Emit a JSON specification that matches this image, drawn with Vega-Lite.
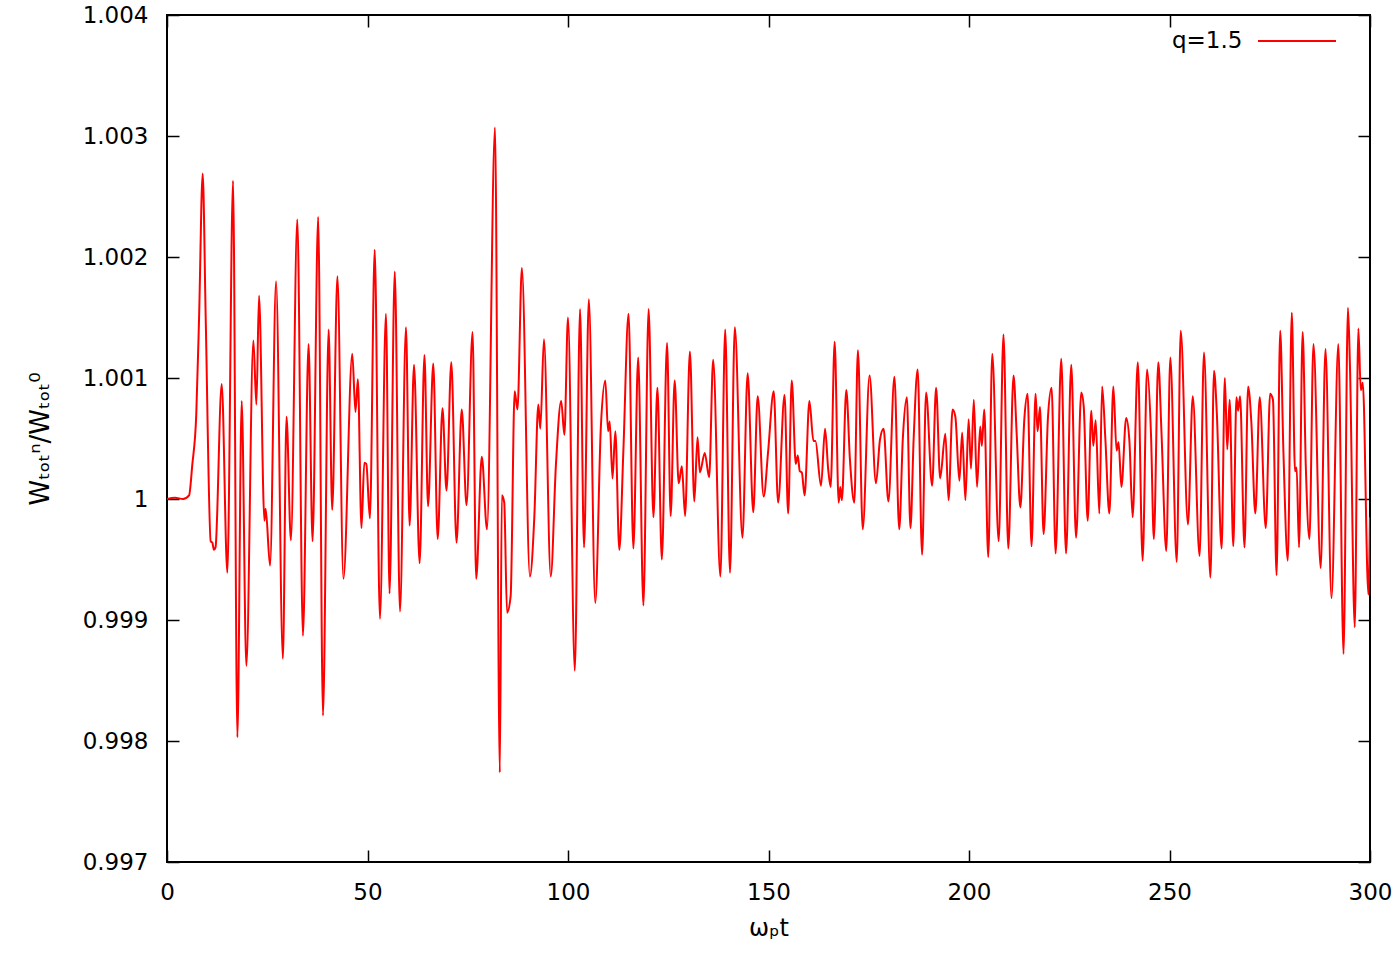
{
  "$schema": "https://vega.github.io/schema/vega-lite/v6.json",
  "width": 1203,
  "height": 847,
  "autosize": "none",
  "padding": {"left": 167, "top": 15, "right": 30, "bottom": 93},
  "background": "white",
  "config": {
    "view": {"stroke": "#000", "strokeWidth": 2},
    "font": "DejaVu Sans",
    "axis": {
      "grid": false,
      "domain": false,
      "tickColor": "#000",
      "tickWidth": 1.5,
      "tickSize": -12,
      "labelFont": "DejaVu Sans",
      "labelFontSize": 23,
      "labelColor": "#000",
      "titleFont": "DejaVu Sans",
      "titleFontSize": 23,
      "titleFontWeight": "normal",
      "titleColor": "#000"
    }
  },
  "data": {
    "values": [
      {"t": 0, "w": 1.00000}, {"t": 2, "w": 1.00001}, {"t": 4, "w": 1.00000}, {"t": 5.5, "w": 1.00003},
      {"t": 6.3, "w": 1.00028}, {"t": 7.3, "w": 1.0007}, {"t": 8.0, "w": 1.0015}, {"t": 8.9, "w": 1.00269},
      {"t": 9.65, "w": 1.0015}, {"t": 10.9, "w": 0.99965}, {"t": 11.3, "w": 0.99964}, {"t": 11.7, "w": 0.99958},
      {"t": 12.1, "w": 0.9996}, {"t": 13.64, "w": 1.00095}, {"t": 15.05, "w": 0.99939}, {"t": 16.47, "w": 1.00263},
      {"t": 17.55, "w": 0.99803}, {"t": 18.63, "w": 1.00081}, {"t": 19.79, "w": 0.99862}, {"t": 21.54, "w": 1.00131},
      {"t": 22.29, "w": 1.00078}, {"t": 22.95, "w": 1.00168}, {"t": 24.3, "w": 0.99982}, {"t": 24.6, "w": 0.99992},
      {"t": 25.7, "w": 0.99945}, {"t": 27.2, "w": 1.0018}, {"t": 28.9, "w": 0.99868}, {"t": 29.8, "w": 1.00068},
      {"t": 30.9, "w": 0.99966}, {"t": 32.5, "w": 1.00231}, {"t": 33.9, "w": 0.99887}, {"t": 35.3, "w": 1.00128},
      {"t": 36.3, "w": 0.99965}, {"t": 37.7, "w": 1.00233}, {"t": 38.9, "w": 0.99821}, {"t": 40.3, "w": 1.0014},
      {"t": 41.2, "w": 0.99991}, {"t": 42.5, "w": 1.00184}, {"t": 44.0, "w": 0.99934}, {"t": 46.2, "w": 1.0012},
      {"t": 47.0, "w": 1.00072}, {"t": 47.6, "w": 1.00099}, {"t": 48.5, "w": 0.99976}, {"t": 49.2, "w": 1.0003},
      {"t": 49.7, "w": 1.00029}, {"t": 50.6, "w": 0.99984}, {"t": 51.8, "w": 1.00206}, {"t": 53.1, "w": 0.99901},
      {"t": 54.6, "w": 1.00153}, {"t": 55.5, "w": 0.99922}, {"t": 56.8, "w": 1.00188}, {"t": 58.1, "w": 0.99907},
      {"t": 59.6, "w": 1.00142}, {"t": 60.5, "w": 0.99978}, {"t": 61.6, "w": 1.00111}, {"t": 63.0, "w": 0.99947},
      {"t": 64.2, "w": 1.00119}, {"t": 65.1, "w": 0.99994}, {"t": 66.4, "w": 1.00112}, {"t": 67.5, "w": 0.99967},
      {"t": 68.7, "w": 1.00075}, {"t": 69.7, "w": 1.00007}, {"t": 70.9, "w": 1.00113}, {"t": 72.2, "w": 0.99964},
      {"t": 73.5, "w": 1.00074}, {"t": 74.7, "w": 0.99995}, {"t": 76.2, "w": 1.00138}, {"t": 77.1, "w": 0.99934},
      {"t": 78.5, "w": 1.00035}, {"t": 79.8, "w": 0.99975}, {"t": 81.8, "w": 1.00307}, {"t": 83.0, "w": 0.99774},
      {"t": 83.5, "w": 1.00003}, {"t": 84.1, "w": 0.99997}, {"t": 84.8, "w": 0.99906}, {"t": 85.7, "w": 0.9992},
      {"t": 86.7, "w": 1.00089}, {"t": 87.4, "w": 1.00074}, {"t": 88.5, "w": 1.00191}, {"t": 90.5, "w": 0.99936},
      {"t": 91.6, "w": 0.99985}, {"t": 92.6, "w": 1.00078}, {"t": 93.1, "w": 1.00058}, {"t": 94.0, "w": 1.00132},
      {"t": 95.7, "w": 0.99936}, {"t": 97.0, "w": 1.00029}, {"t": 98.3, "w": 1.00081}, {"t": 99.1, "w": 1.00053},
      {"t": 100.0, "w": 1.0015}, {"t": 101.7, "w": 0.99858}, {"t": 103.0, "w": 1.00157}, {"t": 104.0, "w": 0.9996},
      {"t": 105.2, "w": 1.00165}, {"t": 106.8, "w": 0.99914}, {"t": 108.2, "w": 1.0006}, {"t": 109.3, "w": 1.00098},
      {"t": 110.0, "w": 1.00056}, {"t": 110.4, "w": 1.00064}, {"t": 111.1, "w": 1.00017}, {"t": 111.8, "w": 1.00056},
      {"t": 112.8, "w": 0.99958}, {"t": 113.8, "w": 1.00039}, {"t": 115.1, "w": 1.00153}, {"t": 116.3, "w": 0.99959},
      {"t": 117.5, "w": 1.00117}, {"t": 118.8, "w": 0.99912}, {"t": 120.1, "w": 1.00157}, {"t": 121.3, "w": 0.99985},
      {"t": 122.3, "w": 1.00092}, {"t": 123.4, "w": 0.9995}, {"t": 124.7, "w": 1.00129}, {"t": 125.6, "w": 0.99986},
      {"t": 126.6, "w": 1.00098}, {"t": 127.6, "w": 1.00013}, {"t": 128.4, "w": 1.00027}, {"t": 129.2, "w": 0.99986},
      {"t": 130.4, "w": 1.00122}, {"t": 131.5, "w": 0.99998}, {"t": 132.3, "w": 1.00051}, {"t": 132.9, "w": 1.00022},
      {"t": 134.1, "w": 1.00038}, {"t": 135.2, "w": 1.00018}, {"t": 136.2, "w": 1.00115}, {"t": 138.0, "w": 0.99936},
      {"t": 139.2, "w": 1.0014}, {"t": 140.4, "w": 0.99939}, {"t": 141.6, "w": 1.00142}, {"t": 143.5, "w": 0.99968},
      {"t": 144.8, "w": 1.00104}, {"t": 146.2, "w": 0.99989}, {"t": 147.3, "w": 1.00085}, {"t": 148.8, "w": 1.00002},
      {"t": 149.9, "w": 1.00039}, {"t": 151.3, "w": 1.00089}, {"t": 152.4, "w": 0.99997}, {"t": 154.0, "w": 1.00086},
      {"t": 154.9, "w": 0.99988}, {"t": 155.8, "w": 1.00098}, {"t": 156.8, "w": 1.00029}, {"t": 157.3, "w": 1.00036},
      {"t": 157.8, "w": 1.00023}, {"t": 158.3, "w": 1.00022}, {"t": 159.0, "w": 1.00003}, {"t": 160.2, "w": 1.00081},
      {"t": 161.2, "w": 1.00048}, {"t": 161.7, "w": 1.00048}, {"t": 163.1, "w": 1.00011}, {"t": 164.1, "w": 1.00058},
      {"t": 164.9, "w": 1.00024}, {"t": 165.5, "w": 1.0001}, {"t": 166.5, "w": 1.0013}, {"t": 167.5, "w": 0.99997},
      {"t": 167.9, "w": 1.0001}, {"t": 168.3, "w": 0.99999}, {"t": 169.4, "w": 1.0009}, {"t": 170.3, "w": 1.00033},
      {"t": 171.4, "w": 0.99997}, {"t": 172.3, "w": 1.00123}, {"t": 173.5, "w": 0.99975}, {"t": 175.2, "w": 1.00102},
      {"t": 176.8, "w": 1.00013}, {"t": 177.8, "w": 1.00049}, {"t": 178.7, "w": 1.00058}, {"t": 179.9, "w": 0.99998},
      {"t": 181.4, "w": 1.00101}, {"t": 182.6, "w": 0.99975}, {"t": 183.5, "w": 1.0005}, {"t": 184.5, "w": 1.00084},
      {"t": 185.4, "w": 0.99976}, {"t": 186.2, "w": 1.0005}, {"t": 187.2, "w": 1.00107}, {"t": 188.3, "w": 0.99954},
      {"t": 189.3, "w": 1.00088}, {"t": 190.8, "w": 1.00011}, {"t": 191.8, "w": 1.00092}, {"t": 192.8, "w": 1.00017},
      {"t": 194.1, "w": 1.00054}, {"t": 194.9, "w": 0.99999}, {"t": 195.9, "w": 1.00074}, {"t": 196.6, "w": 1.00068},
      {"t": 197.6, "w": 1.00015}, {"t": 198.3, "w": 1.00055}, {"t": 199.1, "w": 0.99999}, {"t": 199.9, "w": 1.00066},
      {"t": 200.5, "w": 1.00025}, {"t": 201.2, "w": 1.00082}, {"t": 202.0, "w": 1.0001}, {"t": 202.8, "w": 1.0006},
      {"t": 203.2, "w": 1.00044}, {"t": 203.8, "w": 1.00074}, {"t": 204.8, "w": 0.99952}, {"t": 205.8, "w": 1.0012},
      {"t": 207.4, "w": 0.99965}, {"t": 208.6, "w": 1.00136}, {"t": 209.8, "w": 0.99959}, {"t": 211.1, "w": 1.00102},
      {"t": 211.9, "w": 1.00053}, {"t": 212.8, "w": 0.99993}, {"t": 213.8, "w": 1.00066}, {"t": 214.6, "w": 1.00087},
      {"t": 215.6, "w": 0.99961}, {"t": 216.6, "w": 1.00087}, {"t": 217.1, "w": 1.00056}, {"t": 217.7, "w": 1.00076},
      {"t": 218.6, "w": 0.99971}, {"t": 219.7, "w": 1.00068}, {"t": 220.6, "w": 1.00092}, {"t": 221.6, "w": 0.99955},
      {"t": 223.0, "w": 1.00116}, {"t": 224.2, "w": 0.99955}, {"t": 225.5, "w": 1.00111}, {"t": 226.7, "w": 0.99968},
      {"t": 228.0, "w": 1.00088}, {"t": 228.6, "w": 1.00077}, {"t": 229.6, "w": 0.99982}, {"t": 230.5, "w": 1.00073},
      {"t": 231.0, "w": 1.00044}, {"t": 231.6, "w": 1.00065}, {"t": 232.5, "w": 0.99988}, {"t": 233.2, "w": 1.00093},
      {"t": 234.0, "w": 1.0005}, {"t": 235.0, "w": 0.99988}, {"t": 236.0, "w": 1.00093}, {"t": 236.8, "w": 1.0004},
      {"t": 237.3, "w": 1.00047}, {"t": 238.0, "w": 1.0001}, {"t": 239.2, "w": 1.00067}, {"t": 240.0, "w": 1.00048},
      {"t": 240.8, "w": 0.99985}, {"t": 242.1, "w": 1.00113}, {"t": 243.3, "w": 0.99949}, {"t": 244.4, "w": 1.00107},
      {"t": 245.4, "w": 1.00052}, {"t": 246.1, "w": 0.99967}, {"t": 247.2, "w": 1.00113}, {"t": 248.0, "w": 1.00055},
      {"t": 249.2, "w": 0.99957}, {"t": 250.2, "w": 1.00117}, {"t": 251.8, "w": 0.99948}, {"t": 252.8, "w": 1.00139},
      {"t": 254.6, "w": 0.99979}, {"t": 255.8, "w": 1.00085}, {"t": 257.5, "w": 0.99953}, {"t": 258.6, "w": 1.00121},
      {"t": 260.2, "w": 0.99935}, {"t": 261.1, "w": 1.00106}, {"t": 261.8, "w": 1.00071}, {"t": 263.0, "w": 0.99959},
      {"t": 263.8, "w": 1.001}, {"t": 264.4, "w": 1.00041}, {"t": 265.0, "w": 1.00082}, {"t": 265.9, "w": 0.99961},
      {"t": 266.7, "w": 1.00084}, {"t": 267.1, "w": 1.00073}, {"t": 267.6, "w": 1.00085}, {"t": 268.7, "w": 0.9996},
      {"t": 269.6, "w": 1.00093}, {"t": 270.4, "w": 1.00064}, {"t": 271.4, "w": 0.99988}, {"t": 272.5, "w": 1.00084},
      {"t": 274.0, "w": 0.99976}, {"t": 275.1, "w": 1.00087}, {"t": 275.8, "w": 1.00082}, {"t": 276.7, "w": 0.99937},
      {"t": 277.6, "w": 1.00139}, {"t": 278.4, "w": 1.0004}, {"t": 279.5, "w": 0.99949}, {"t": 280.5, "w": 1.00154},
      {"t": 281.3, "w": 1.00023}, {"t": 281.7, "w": 1.00026}, {"t": 282.3, "w": 0.9996}, {"t": 283.2, "w": 1.00138},
      {"t": 284.0, "w": 1.00026}, {"t": 284.9, "w": 0.99967}, {"t": 285.9, "w": 1.00128}, {"t": 287.7, "w": 0.99943},
      {"t": 288.9, "w": 1.00124}, {"t": 290.4, "w": 0.99918}, {"t": 292.1, "w": 1.00128}, {"t": 293.4, "w": 0.99872},
      {"t": 294.5, "w": 1.00158}, {"t": 295.0, "w": 1.0011}, {"t": 296.2, "w": 0.99894}, {"t": 297.1, "w": 1.00141},
      {"t": 297.7, "w": 1.0009}, {"t": 298.2, "w": 1.00096}, {"t": 299.6, "w": 0.99921}, {"t": 300.0, "w": 0.99985}
    ]
  },
  "layer": [
    {
      "mark": {"type": "line", "strokeWidth": 2, "interpolate": "monotone", "clip": true},
      "encoding": {
        "x": {
          "field": "t", "type": "quantitative",
          "scale": {"domain": [0, 300], "nice": false, "zero": false},
          "axis": {"orient": "bottom", "values": [0, 50, 100, 150, 200, 250, 300], "labelPadding": 31, "title": "ωₚt", "titlePadding": 12, "titleFontSize": 24, "labelFlush": false}
        },
        "y": {
          "field": "w", "type": "quantitative",
          "scale": {"domain": [0.997, 1.004], "nice": false, "zero": false},
          "axis": {"orient": "left", "values": [0.997, 0.998, 0.999, 1.0, 1.001, 1.002, 1.003, 1.004],
                   "labelExpr": "abs(datum.value - 1) < 1e-9 ? '1' : format(datum.value, '.3f')",
                   "labelPadding": 31, "title": "Wₜₒₜⁿ/Wₜₒₜ⁰", "titlePadding": 29, "titleFontSize": 26, "labelFlush": false}
        },
        "color": {
          "datum": "q=1.5", "type": "nominal",
          "scale": {"range": ["#ff0000"]},
          "legend": {
            "orient": "none", "legendX": 1005, "legendY": -14, "title": null,
            "symbolType": "stroke", "symbolSize": 6084, "symbolStrokeWidth": 2,
            "symbolOffset": 85, "labelOffset": -165, "padding": 0,
            "labelFont": "DejaVu Sans", "labelFontSize": 23, "labelColor": "#000"
          }
        }
      }
    },
    {
      "mark": {"type": "line", "opacity": 0},
      "encoding": {
        "x": {
          "field": "t", "type": "quantitative",
          "scale": {"domain": [0, 300], "nice": false, "zero": false},
          "axis": {"orient": "top", "values": [0, 50, 100, 150, 200, 250, 300], "labels": false, "title": null}
        },
        "y": {
          "field": "w", "type": "quantitative",
          "scale": {"domain": [0.997, 1.004], "nice": false, "zero": false},
          "axis": {"orient": "right", "values": [0.997, 0.998, 0.999, 1.0, 1.001, 1.002, 1.003, 1.004], "labels": false, "title": null}
        }
      }
    }
  ],
  "resolve": {"axis": {"x": "independent", "y": "independent"}}
}
